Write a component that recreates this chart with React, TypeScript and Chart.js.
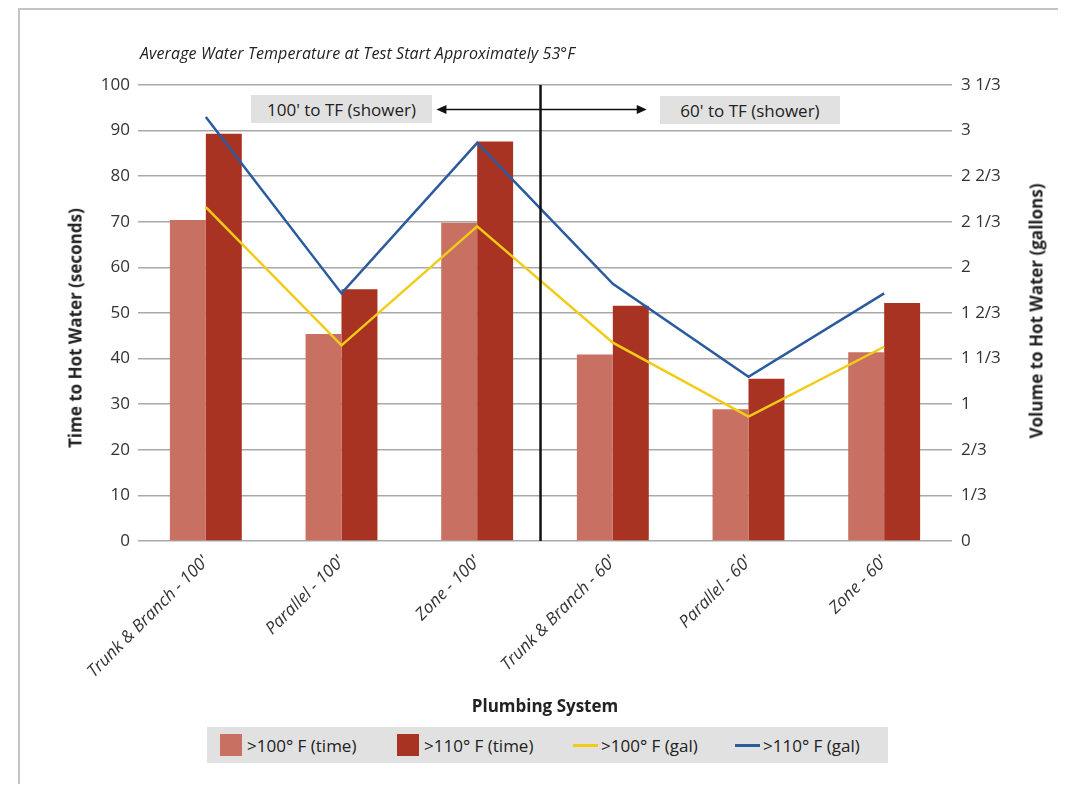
import React, { useEffect, useRef } from "react";
import { Chart, registerables } from "chart.js";

Chart.register(...registerables);

const categories = [
  "Trunk & Branch - 100'",
  "Parallel - 100'",
  "Zone - 100'",
  "Trunk & Branch - 60'",
  "Parallel - 60'",
  "Zone - 60'",
];
const time100 = [70.4, 45.4, 69.8, 40.9, 28.9, 41.4];
const time110 = [89.3, 55.2, 87.6, 51.6, 35.6, 52.2];
const gal100 = [2.44, 1.43, 2.3, 1.45, 0.91, 1.42];
const gal110 = [3.1, 1.81, 2.91, 1.88, 1.2, 1.81];

const leftTicks = [0, 10, 20, 30, 40, 50, 60, 70, 80, 90, 100];
const rightTickThirds = [0, 1, 2, 3, 4, 5, 6, 7, 8, 9, 10];

const seriesLabels = [">100° F (time)", ">110° F (time)", ">100° F (gal)", ">110° F (gal)"];
const colors = ["#c87163", "#a83322", "#f2cb17", "#2b5b9e"];

const DIVIDER_AT = 2.467;
const ARROW_FROM = 1.7;
const ARROW_TO = 3.25;
const ARROW_Y = 94.6;

const FONT = "'Open Sans', 'DejaVu Sans', sans-serif";

function fmtThirds(v: number): string {
  const n = Math.round(v * 3);
  const whole = Math.floor(n / 3);
  const rem = n % 3;
  if (rem === 0) return String(whole);
  const frac = rem + "/3";
  return whole === 0 ? frac : whole + " " + frac;
}

const dividerPlugin = {
  id: "divider",
  afterDatasetsDraw(chart: any) {
    const { ctx, chartArea, scales } = chart;
    const x = scales.x;
    const y = scales.y;
    const px = x.getPixelForValue(DIVIDER_AT);
    ctx.save();
    ctx.strokeStyle = "#111";
    ctx.lineWidth = 2.5;
    ctx.beginPath();
    ctx.moveTo(px, chartArea.top);
    ctx.lineTo(px, chartArea.bottom);
    ctx.stroke();

    const ay = y.getPixelForValue(ARROW_Y);
    const x1 = x.getPixelForValue(ARROW_FROM);
    const x2 = x.getPixelForValue(ARROW_TO);
    ctx.lineWidth = 1.5;
    ctx.beginPath();
    ctx.moveTo(x1 + 6, ay);
    ctx.lineTo(x2 - 6, ay);
    ctx.stroke();
    ctx.fillStyle = "#111";
    ctx.beginPath();
    ctx.moveTo(x1, ay);
    ctx.lineTo(x1 + 10, ay - 4.5);
    ctx.lineTo(x1 + 10, ay + 4.5);
    ctx.closePath();
    ctx.fill();
    ctx.beginPath();
    ctx.moveTo(x2, ay);
    ctx.lineTo(x2 - 10, ay - 4.5);
    ctx.lineTo(x2 - 10, ay + 4.5);
    ctx.closePath();
    ctx.fill();
    ctx.restore();
  },
};

function ChartView() {
  const ref = useRef<HTMLCanvasElement | null>(null);
  useEffect(() => {
    if (!ref.current) return;
    const chart = new Chart(ref.current, {
      type: "bar",
      data: {
        labels: categories,
        datasets: [
          {
            type: "line",
            label: seriesLabels[3],
            data: gal110,
            yAxisID: "y1",
            borderColor: colors[3],
            backgroundColor: colors[3],
            borderWidth: 2.5,
            pointRadius: 0,
            tension: 0,
            order: 0,
          } as any,
          {
            type: "line",
            label: seriesLabels[2],
            data: gal100,
            yAxisID: "y1",
            borderColor: colors[2],
            backgroundColor: colors[2],
            borderWidth: 2.5,
            pointRadius: 0,
            tension: 0,
            order: 0,
          } as any,
          {
            label: seriesLabels[0],
            data: time100,
            yAxisID: "y",
            backgroundColor: colors[0],
            categoryPercentage: 0.53,
            barPercentage: 1.0,
            order: 1,
          },
          {
            label: seriesLabels[1],
            data: time110,
            yAxisID: "y",
            backgroundColor: colors[1],
            categoryPercentage: 0.53,
            barPercentage: 1.0,
            order: 1,
          },
        ],
      },
      options: {
        animation: false,
        responsive: false,
        maintainAspectRatio: false,
        layout: { padding: { top: 77, left: 0, right: 0, bottom: 0 } },
        plugins: {
          legend: { display: false },
          tooltip: { enabled: false },
          title: { display: false },
        },
        scales: {
          x: {
            grid: { display: false },
            border: { display: false },
            ticks: {
              color: "#333",
              font: { family: FONT, size: 17, style: "italic" },
              minRotation: 45,
              maxRotation: 45,
              padding: 3,
              autoSkip: false,
            },
            afterFit: (s: any) => {
              s.height = 167;
            },
          },
          y: {
            position: "left",
            min: 0,
            max: 100,
            afterBuildTicks: (s: any) => {
              s.ticks = leftTicks.map((v) => ({ value: v }));
            },
            grid: { color: "#a9a9a9", lineWidth: 1.5, drawTicks: false },
            border: { display: false },
            ticks: {
              color: "#333",
              font: { family: FONT, size: 17 },
              padding: 8,
            },
            afterFit: (s: any) => {
              s.width = 130;
            },
          },
          y1: {
            position: "right",
            min: 0,
            max: 10 / 3,
            afterBuildTicks: (s: any) => {
              s.ticks = rightTickThirds.map((t) => ({ value: t / 3 }));
            },
            grid: { display: false, drawTicks: false },
            border: { display: false },
            ticks: {
              color: "#333",
              font: { family: FONT, size: 17 },
              padding: 9,
              callback: (v: any) => fmtThirds(Number(v)),
            },
            afterFit: (s: any) => {
              s.width = 106;
            },
          },
        },
      },
      plugins: [dividerPlugin],
    });
    return () => chart.destroy();
  }, []);
  return <canvas ref={ref} width={1050} height={700} style={{ position: "absolute", left: 0, top: 0 }} />;
}

const boxStyle: React.CSSProperties = {
  position: "absolute",
  background: "#e1e1e1",
  height: 28,
  display: "flex",
  alignItems: "center",
  justifyContent: "center",
  fontFamily: FONT,
  fontSize: 17,
  color: "#222",
  whiteSpace: "nowrap",
};

const legendLefts = [13, 190, 366, 528];

export default function App() {
  return (
    <div style={{ position: "relative", width: 1050, height: 776, background: "#fff" }}>
      <div
        style={{
          position: "absolute",
          left: 10,
          top: 0,
          width: 1048,
          height: 776,
          borderTop: "2px solid #c4c4c4",
          borderLeft: "2px solid #c4c4c4",
        }}
      />
      <ChartView />
      <div
        style={{
          position: "absolute",
          left: 132,
          top: 34,
          fontFamily: FONT,
          fontStyle: "italic",
          fontSize: 16,
          letterSpacing: "0.1px",
          color: "#222",
          whiteSpace: "nowrap",
        }}
      >
        Average Water Temperature at Test Start Approximately 53°F
      </div>
      <div style={{ ...boxStyle, left: 243, top: 87, width: 181 }}>100' to TF (shower)</div>
      <div style={{ ...boxStyle, left: 652, top: 88, width: 180 }}>60' to TF (shower)</div>
      <div
        style={{
          position: "absolute",
          left: 67,
          top: 320,
          transform: "translate(-50%, -50%) rotate(-90deg)",
          fontFamily: FONT,
          fontWeight: 700,
          fontSize: 17,
          color: "#222",
          whiteSpace: "nowrap",
        }}
      >
        Time to Hot Water (seconds)
      </div>
      <div
        style={{
          position: "absolute",
          left: 1028,
          top: 303,
          transform: "translate(-50%, -50%) rotate(-90deg)",
          fontFamily: FONT,
          fontWeight: 700,
          fontSize: 17,
          color: "#222",
          whiteSpace: "nowrap",
        }}
      >
        Volume to Hot Water (gallons)
      </div>
      <div
        style={{
          position: "absolute",
          left: 537,
          top: 697,
          transform: "translate(-50%, -50%)",
          fontFamily: FONT,
          fontWeight: 700,
          fontSize: 17,
          color: "#222",
          whiteSpace: "nowrap",
        }}
      >
        Plumbing System
      </div>
      <div
        style={{
          position: "absolute",
          left: 199,
          top: 719,
          width: 681,
          height: 36,
          background: "#e1e1e1",
          fontFamily: FONT,
          fontSize: 17,
          color: "#222",
          whiteSpace: "nowrap",
        }}
      >
        {seriesLabels.map((lab, i) => (
          <div
            key={lab}
            style={{
              position: "absolute",
              left: legendLefts[i],
              top: 0,
              height: 36,
              display: "flex",
              alignItems: "center",
            }}
          >
            {i < 2 ? (
              <span style={{ display: "inline-block", width: 22, height: 22, background: colors[i], marginRight: 5 }} />
            ) : (
              <span style={{ display: "inline-block", width: 25, height: 3, background: colors[i], marginRight: 3 }} />
            )}
            <span>{lab}</span>
          </div>
        ))}
      </div>
    </div>
  );
}
